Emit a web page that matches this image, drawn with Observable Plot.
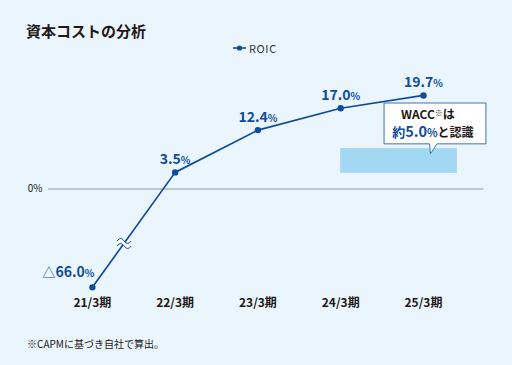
<!DOCTYPE html>
<html><head><meta charset="utf-8">
<script src="https://cdn.jsdelivr.net/npm/d3@7"></script>
<script src="https://cdn.jsdelivr.net/npm/@observablehq/plot@0.6"></script>
<style>
body{margin:0;background:#fff}
#wrap{position:relative;width:512px;height:365px;background:#eaf5fd;font-family:"Noto Sans CJK JP","Noto Sans",sans-serif;overflow:hidden}
#title{position:absolute;left:26px;top:21px;font-size:15px;font-weight:700;color:#231815;line-height:20px}
#legend{position:absolute;left:232px;top:40px;font-size:11px;color:#333;display:flex;align-items:center;gap:2px;line-height:16px;letter-spacing:0.6px}
#note{position:absolute;left:27px;top:337px;font-size:10px;color:#231815;line-height:14px}
#chart{position:absolute;left:0;top:0}
</style></head>
<body>
<div id="wrap">
  <div id="chart"></div>
  <div id="title">資本コストの分析</div>
  <div id="legend"><svg width="15" height="8"><line x1="1" y1="4" x2="14" y2="4" stroke="#0f4c9c" stroke-width="1.6"/><circle cx="7.5" cy="4" r="2.6" fill="#0f4c9c"/></svg><span>ROIC</span></div>
  <div id="note">※CAPMに基づき自社で算出。</div>
</div>
<script>
const periods = ["21/3期", "22/3期", "23/3期", "24/3期", "25/3期"];
const roic = [-66.0, 3.5, 12.4, 17.0, 19.7];
const yTicks = [0];
const waccValue = "5.0";
// WACC band (in axis units)
const waccBand = {x1: 3.0, x2: 4.41, y1: 3.3, y2: 8.5};
// callout box (in axis units)
const callBox = {x1: 3.53, x2: 4.76, y1: 9.4, y2: 18.0, tailL: 4.08, tailR: 4.17, tipX: 4.09, tipY: 7.3, textX: 4.12};
// broken axis: values below the floor are drawn at the floor
const breakFloor = -20.7;
const breakAt = 0.39;

const BLUE = "#0f4c9c", DARK = "#231815";
const fmt = v => (v < 0 ? "△" + Math.abs(v).toFixed(1) : v.toFixed(1)) + "%";
const data = periods.map((p, i) => ({i, period: p, value: roic[i], shown: Math.max(roic[i], breakFloor), label: fmt(roic[i])}));
const pos = data.filter(d => d.value >= 0);
const neg = data.filter(d => d.value < 0);

const breakMark = (index, {x, y}) => {
  const a = data[0], b = data[1];
  const px = x(a.i + (b.i - a.i) * breakAt);
  const py = y(a.shown + (b.shown - a.shown) * breakAt);
  const g = d3.create("svg:g").attr("transform", `translate(${px},${py})`);
  const top = "M-7,-1 q3.5,-5 7,0 t7,0";
  const bot = "M-7,4 q3.5,-5 7,0 t7,0";
  g.append("path").attr("d", "M-7,-1 q3.5,-5 7,0 t7,0 L7,4 q-3.5,5 -7,0 t-7,0 Z").attr("fill", "#ffffff");
  g.append("path").attr("d", top).attr("fill", "none").attr("stroke", BLUE).attr("stroke-width", 1);
  g.append("path").attr("d", bot).attr("fill", "none").attr("stroke", BLUE).attr("stroke-width", 1);
  return g.node();
};

const callout = (index, {x, y}) => {
  const c = callBox;
  const x0 = x(c.x1), x1 = x(c.x2), yt = y(c.y2), yb = y(c.y1);
  const g = d3.create("svg:g");
  g.append("path")
    .attr("d", `M${x0},${yt}H${x1}V${yb}H${x(c.tailR)}L${x(c.tipX)},${y(c.tipY)}L${x(c.tailL)},${yb}H${x0}Z`)
    .attr("fill", "#fff").attr("stroke", "#3f72b8").attr("stroke-width", 1);
  const cx = x(c.textX);
  const t1 = g.append("text").attr("x", cx - 5).attr("y", yt + 15.5).attr("text-anchor", "middle")
    .attr("font-size", 12).attr("font-weight", 700).attr("fill", DARK);
  t1.append("tspan").text("WACC");
  t1.append("tspan").attr("font-size", 8).attr("dy", -3).text("※");
  t1.append("tspan").attr("dy", 3).text("は");
  const t2 = g.append("text").attr("x", cx).attr("y", yt + 33.5).attr("text-anchor", "middle")
    .attr("font-weight", 700).attr("fill", DARK);
  t2.append("tspan").attr("font-size", 13).attr("fill", BLUE).text("約");
  t2.append("tspan").attr("font-size", 14.5).attr("fill", BLUE).text(waccValue);
  t2.append("tspan").attr("font-size", 11).attr("fill", BLUE).text("%");
  t2.append("tspan").attr("font-size", 12).text("と認識");
  return g.node();
};

const chart = Plot.plot({
  width: 512,
  height: 365,
  marginTop: 65,
  marginBottom: 72,
  marginLeft: 48,
  marginRight: 28.6,
  style: {background: "transparent", fontFamily: '"Noto Sans CJK JP","Noto Sans",sans-serif'},
  x: {domain: [-0.53, 4.73]},
  y: {domain: [-22, 26]},
  marks: [
    Plot.rect([waccBand], {x1: "x1", x2: "x2", y1: "y1", y2: "y2", fill: "#a3d8f3"}),
    Plot.ruleY(yTicks, {stroke: "#aeb4b8", strokeWidth: 1.3}),
    Plot.axisY({ticks: yTicks, tickFormat: d => d + "%", tickSize: 0, tickPadding: 6, fontSize: 10, fill: DARK, label: null}),
    Plot.axisX({ticks: data.map(d => d.i), tickFormat: i => periods[i], tickSize: 0, tickPadding: 5, fontSize: 12, fontWeight: 700, fill: DARK, label: null}),
    Plot.line(data, {x: "i", y: "shown", stroke: BLUE, strokeWidth: 1.7}),
    breakMark,
    Plot.dot(data, {x: "i", y: "shown", r: 3.2, fill: BLUE}),
    Plot.text(pos, {x: "i", y: "shown", text: "label", dy: -13, fontSize: 14, fontWeight: 700, fill: BLUE}),
    Plot.text(neg, {x: "i", y: "shown", text: "label", dy: -15, dx: 2, textAnchor: "end", fontSize: 14, fontWeight: 700, fill: BLUE}),
    callout
  ]
});
// render the "%" of the value labels smaller, the "△" lighter
chart.querySelectorAll('g[aria-label="text"] text').forEach(el => {
  const s = el.textContent;
  if (!s.endsWith("%")) return;
  el.textContent = "";
  let body = s.slice(0, -1);
  if (body.startsWith("△")) {
    const tri = document.createElementNS("http://www.w3.org/2000/svg", "tspan");
    tri.setAttribute("font-weight", "400"); tri.setAttribute("font-size", "13");
    tri.textContent = "△";
    el.appendChild(tri);
    body = body.slice(1);
  }
  const n = document.createElementNS("http://www.w3.org/2000/svg", "tspan");
  n.textContent = body;
  el.appendChild(n);
  const p = document.createElementNS("http://www.w3.org/2000/svg", "tspan");
  p.setAttribute("font-size", "10");
  p.textContent = "%";
  el.appendChild(p);
});
document.getElementById("chart").appendChild(chart);
</script>
</body></html>
